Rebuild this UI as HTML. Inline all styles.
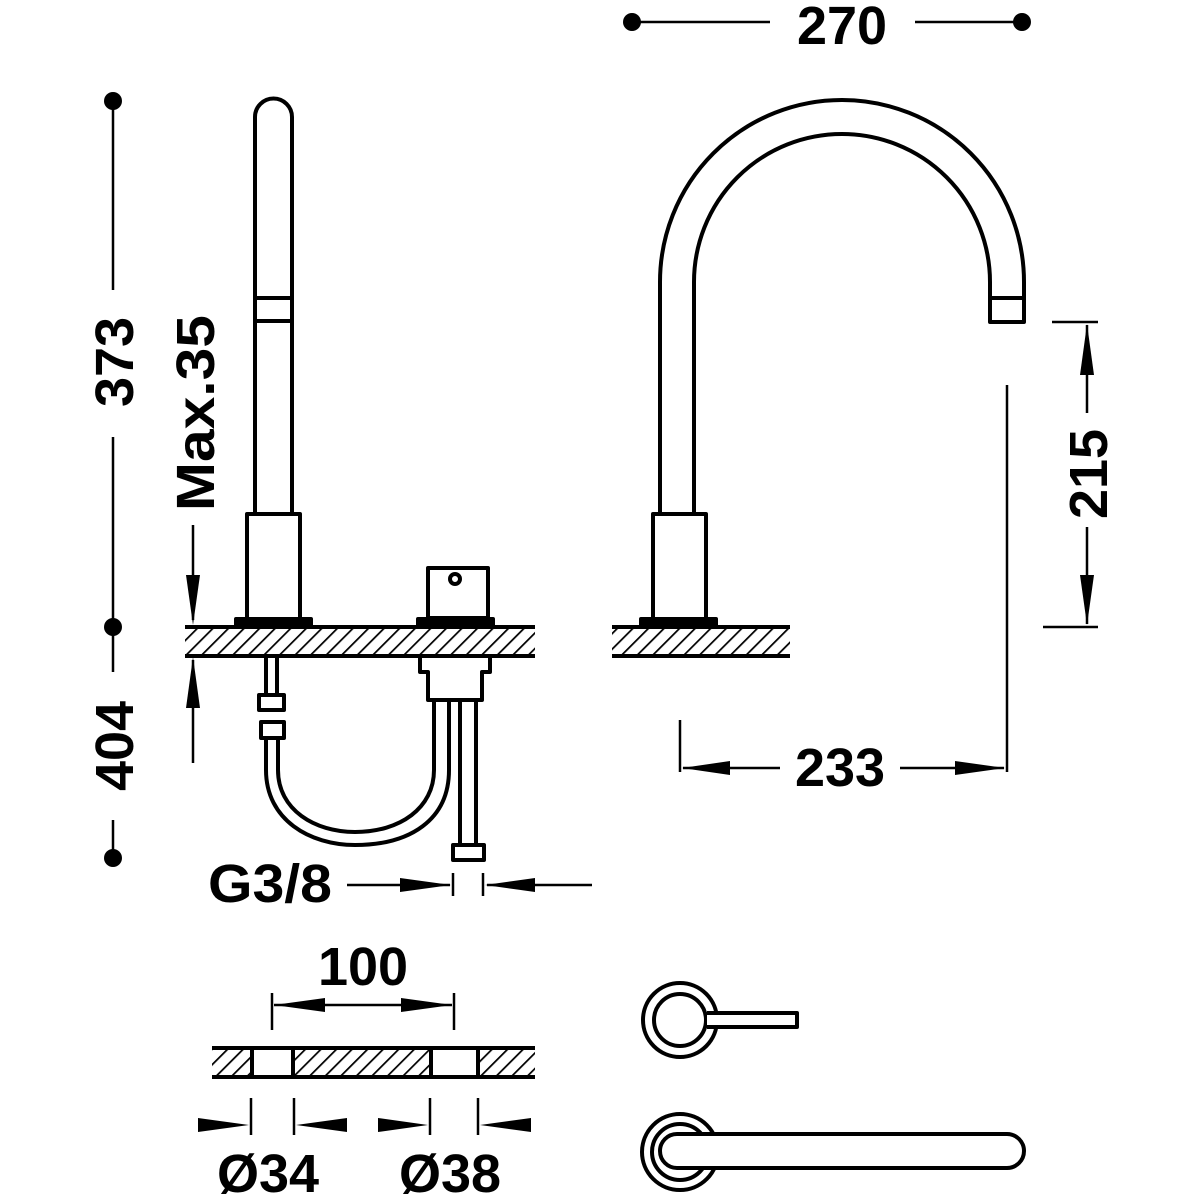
<!DOCTYPE html>
<html><head><meta charset="utf-8"><style>
html,body{margin:0;padding:0;background:#fff}
svg{display:block}
text{font-family:"Liberation Sans",sans-serif;font-weight:bold;fill:#000}
</style></head><body>
<svg width="1200" height="1200" viewBox="0 0 1200 1200" xmlns="http://www.w3.org/2000/svg">
<defs>
<pattern id="h" patternUnits="userSpaceOnUse" width="11" height="11" patternTransform="rotate(45)">
<line x1="0" y1="0" x2="0" y2="11" stroke="#000" stroke-width="3.5"/>
</pattern>
</defs>
<g fill="none" stroke="#000" stroke-width="4" stroke-linejoin="round">
<rect x="185" y="627" width="350" height="29" fill="url(#h)" stroke="none"/>
<line x1="185" y1="627" x2="535" y2="627"/><line x1="185" y1="656" x2="535" y2="656"/>
<rect x="612" y="627" width="178" height="29" fill="url(#h)" stroke="none"/>
<line x1="612" y1="627" x2="790" y2="627"/><line x1="612" y1="656" x2="790" y2="656"/>

<path d="M255 513 V117 A18.5 18.5 0 0 1 292 117 V513"/>
<line x1="255" y1="298" x2="292" y2="298"/><line x1="255" y1="321" x2="292" y2="321"/>
<rect x="247" y="514" width="53" height="105"/>
<rect x="236" y="619" width="75" height="6" fill="#000"/>

<rect x="428" y="568" width="60" height="50"/>
<circle cx="455" cy="579" r="5"/>
<rect x="418" y="619" width="75" height="6" fill="#000"/>

<path d="M420 656 V672 H428 V700 H482 V672 H490 V656"/>
<line x1="266" y1="656" x2="266" y2="695"/><line x1="277" y1="656" x2="277" y2="695"/>
<rect x="259" y="695" width="25" height="15"/>
<rect x="261" y="722" width="23" height="16"/>
<path d="M266 738 V770 C266 820 310 845 355 845 C410 845 449 820 449 770 V700"/>
<path d="M278 738 V770 C278 810 315 832 355 832 C400 832 434 808 434 770 V700"/>
<line x1="460" y1="700" x2="460" y2="845"/><line x1="476" y1="700" x2="476" y2="845"/>
<rect x="453" y="845" width="31" height="15"/>

<path d="M660 513 V282 A182 182 0 0 1 1024 282 V322 H990 V282 A148 148 0 0 0 694 282 V513"/>
<line x1="990" y1="298" x2="1024" y2="298"/>
<rect x="653" y="514" width="53" height="105"/>
<rect x="641" y="619" width="75" height="6" fill="#000"/>

<rect x="212" y="1048" width="323" height="29" fill="url(#h)" stroke="none"/>
<rect x="252" y="1050" width="41" height="25" fill="#fff" stroke="none"/>
<rect x="431" y="1050" width="47" height="25" fill="#fff" stroke="none"/>
<line x1="212" y1="1048" x2="535" y2="1048"/><line x1="212" y1="1077" x2="535" y2="1077"/>
<line x1="252" y1="1048" x2="252" y2="1077"/><line x1="293" y1="1048" x2="293" y2="1077"/>
<line x1="431" y1="1048" x2="431" y2="1077"/><line x1="478" y1="1048" x2="478" y2="1077"/>

<circle cx="680" cy="1020" r="37"/>
<circle cx="680" cy="1020" r="26"/>
<path d="M707 1013 H797 V1027 H707" fill="#fff"/>
<circle cx="680" cy="1152" r="38"/>
<circle cx="680" cy="1152" r="28"/>
<rect x="660" y="1134" width="364" height="34" rx="17" fill="#fff"/>
</g>

<g stroke="#000" stroke-width="2.5" fill="none">
<line x1="632" y1="22" x2="770" y2="22"/><line x1="915" y1="22" x2="1022" y2="22"/>
<line x1="113" y1="101" x2="113" y2="290"/><line x1="113" y1="437" x2="113" y2="672"/><line x1="113" y1="820" x2="113" y2="858"/>
<line x1="193" y1="525" x2="193" y2="620"/><line x1="193" y1="660" x2="193" y2="763"/>
<line x1="1052" y1="322" x2="1098" y2="322"/><line x1="1043" y1="627" x2="1098" y2="627"/>
<line x1="1087" y1="325" x2="1087" y2="413"/><line x1="1087" y1="527" x2="1087" y2="624"/>
<line x1="680" y1="720" x2="680" y2="772"/><line x1="1007" y1="385" x2="1007" y2="772"/>
<line x1="683" y1="768" x2="780" y2="768"/><line x1="900" y1="768" x2="1004" y2="768"/>
<line x1="347" y1="885" x2="450" y2="885"/><line x1="487" y1="885" x2="592" y2="885"/>
<line x1="453" y1="873" x2="453" y2="896"/><line x1="483" y1="873" x2="483" y2="896"/>
<line x1="272" y1="993" x2="272" y2="1030"/><line x1="454" y1="993" x2="454" y2="1030"/>
<line x1="274" y1="1005" x2="452" y2="1005"/>
<line x1="251" y1="1098" x2="251" y2="1135"/><line x1="294" y1="1098" x2="294" y2="1135"/>
<line x1="430" y1="1098" x2="430" y2="1135"/><line x1="478" y1="1098" x2="478" y2="1135"/>
</g>
<g fill="#000">
<circle cx="632" cy="22" r="9"/><circle cx="1022" cy="22" r="9"/>
<circle cx="113" cy="101" r="9"/><circle cx="113" cy="627" r="9"/><circle cx="113" cy="858" r="9"/>
<polygon points="193,625 186,575 200,575"/>
<polygon points="193,657 186,708 200,708"/>
<polygon points="1087,324 1080,375 1094,375"/>
<polygon points="1087,625 1080,575 1094,575"/>
<polygon points="682,768 730,761 730,775"/>
<polygon points="1005,768 955,761 955,775"/>
<polygon points="451,885 400,878 400,892"/>
<polygon points="485,885 535,878 535,892"/>
<polygon points="274,1005 325,998 325,1012"/>
<polygon points="452,1005 401,998 401,1012"/>
<polygon points="249,1125 198,1118 198,1132"/>
<polygon points="296,1125 347,1118 347,1132"/>
<polygon points="428,1125 378,1118 378,1132"/>
<polygon points="480,1125 531,1118 531,1132"/>
</g>

<g font-size="54">
<text x="842" y="44" text-anchor="middle">270</text>
<text x="840" y="786" text-anchor="middle">233</text>
<text x="363" y="985" text-anchor="middle">100</text>
<text x="270" y="902" text-anchor="middle" textLength="124" lengthAdjust="spacingAndGlyphs">G3/8</text>
<text x="268" y="1192" text-anchor="middle">Ø34</text>
<text x="450" y="1192" text-anchor="middle">Ø38</text>
<text transform="translate(133,362) rotate(-90)" text-anchor="middle">373</text>
<text transform="translate(133,746) rotate(-90)" text-anchor="middle">404</text>
<text transform="translate(214,413) rotate(-90)" text-anchor="middle" textLength="196" lengthAdjust="spacingAndGlyphs">Max.35</text>
<text transform="translate(1107,474) rotate(-90)" text-anchor="middle">215</text>
</g>
</svg>
</body></html>
